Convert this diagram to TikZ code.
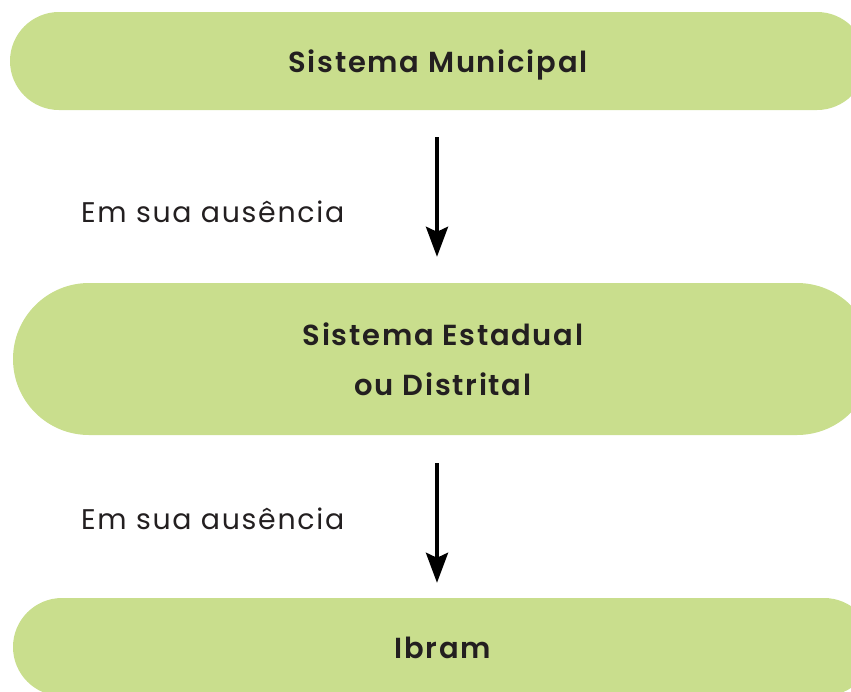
\documentclass[tikz,border=0pt]{standalone}
\usepackage{fontspec}
\setmainfont{Poppins}[LetterSpace=6, BoldFont={Poppins SemiBold}, BoldFeatures={LetterSpace=6}]
\usetikzlibrary{arrows.meta}
\definecolor{pillgreen}{HTML}{C9DE8D}
\definecolor{inkdark}{HTML}{231F20}
\begin{document}
\begin{tikzpicture}[x=1pt,y=-1pt,
  pill/.style={fill=pillgreen, draw=none, inner sep=0pt, align=center, text=inkdark, font=\fontsize{29}{50}\selectfont\bfseries},
  arr/.style={line width=4pt, -{Stealth[length=30pt,width=22pt,inset=5pt]}},
  lbl/.style={anchor=west, inner sep=0pt, text=inkdark, font=\fontsize{28.4}{34}\selectfont}]
\useasboundingbox (0,0) rectangle (851,691);
\clip (0,0) rectangle (851,691);
\node[pill, minimum width=856pt, minimum height=98pt, rounded corners=49pt] (p1) at (438,61) {\raisebox{-11pt}[0pt][0pt]{Sistema Municipal}};
\node[pill, minimum width=860pt, minimum height=152pt, rounded corners=76pt] (p2) at (443,359) {\raisebox{14pt}[0pt][0pt]{\begin{tabular}[t]{@{}c@{}}Sistema Estadual\\ou Distrital\end{tabular}}};
\node[pill, minimum width=860pt, minimum height=98pt, rounded corners=49pt] (p3) at (443,647) {\raisebox{-11pt}[0pt][0pt]{Ibram}};
\draw[arr, shorten <=27pt, shorten >=26pt] ([xshift=-1pt]p1.south) -- ([xshift=-1pt]p1.south |- p2.north);
\draw[arr, shorten <=28pt, shorten >=15pt] ([xshift=-6pt]p2.south) -- ([xshift=-6pt]p2.south |- p3.north);
\node[lbl] (l1) at (81,212) {Em sua ausência};
\node[lbl] (l2) at (81,519) {Em sua ausência};
\end{tikzpicture}
\end{document}
